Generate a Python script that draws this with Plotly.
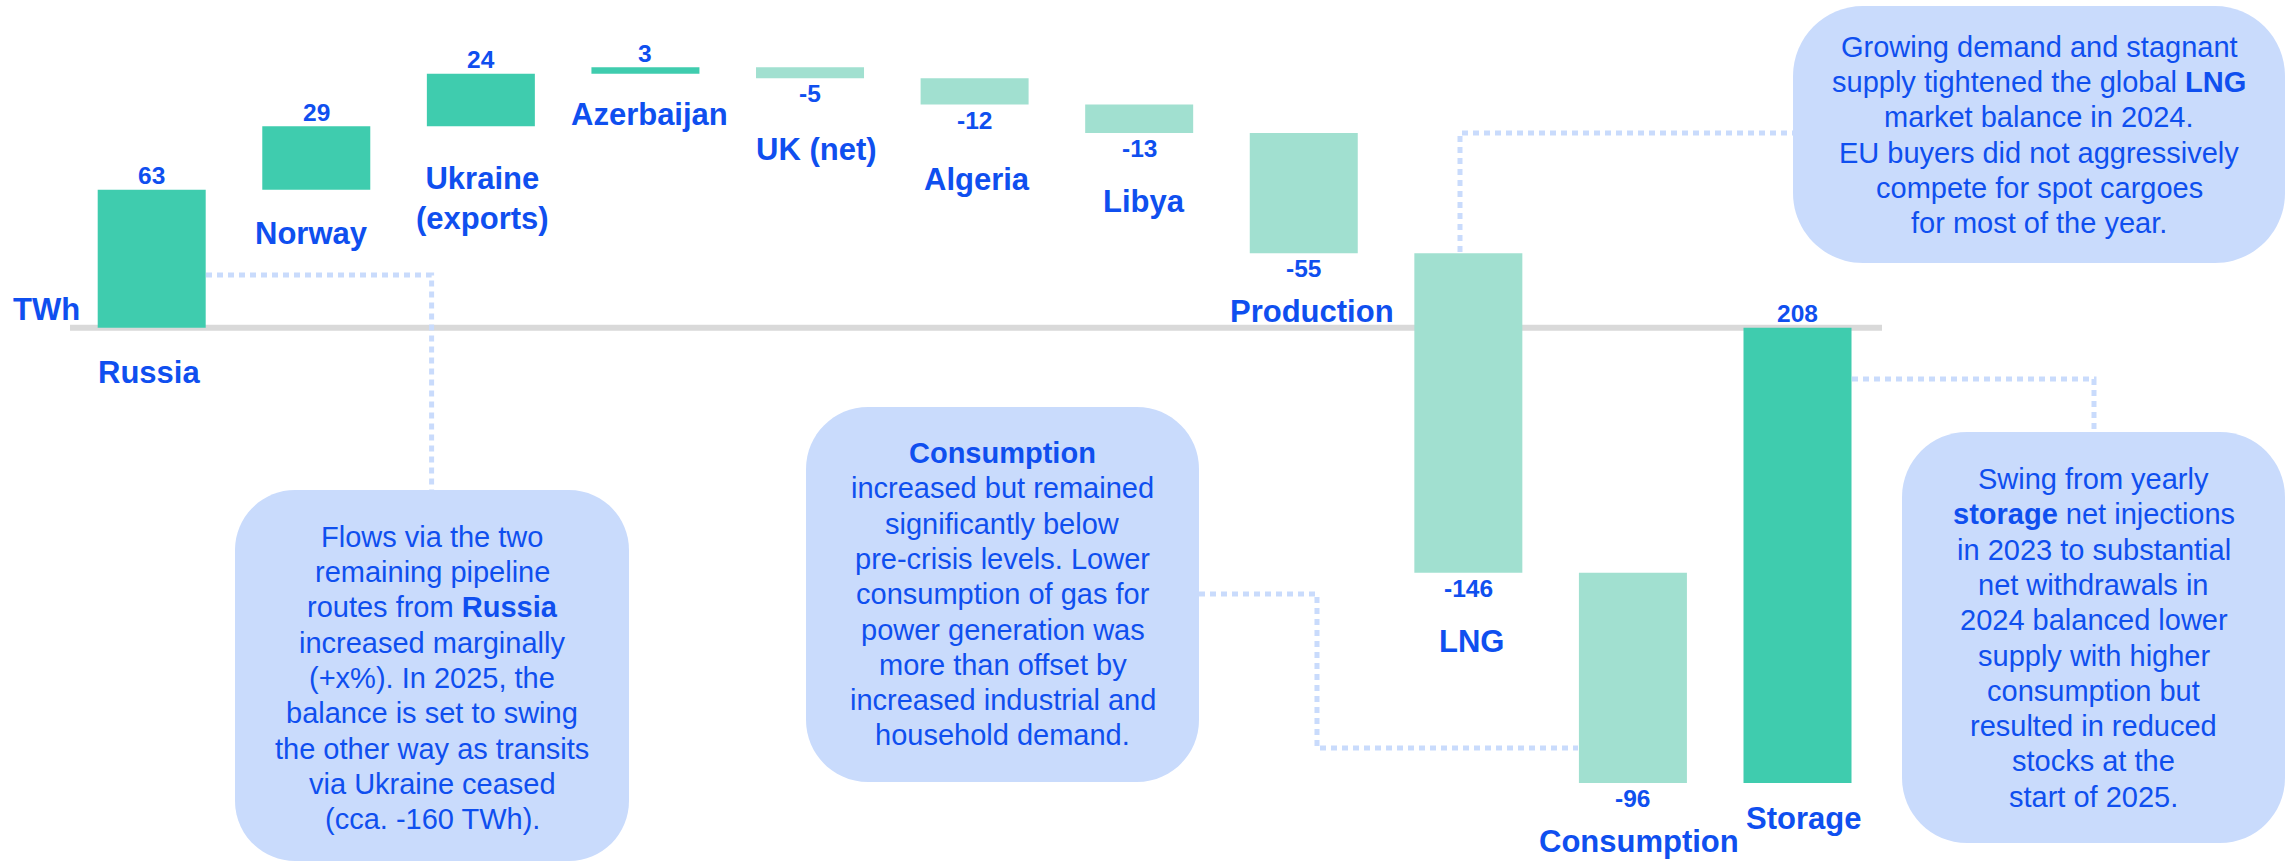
import plotly.graph_objects as go

# ---------------- data ----------------
categories = ["Russia", "Norway", "Ukraine (exports)", "Azerbaijan", "UK (net)",
              "Algeria", "Libya", "Production", "LNG", "Consumption", "Storage"]
values = [63, 29, 24, 3, -5, -12, -13, -55, -146, -96, 208]
category_labels = ["Russia", "Norway", "Ukraine<br>(exports)", "Azerbaijan", "UK (net)",
                   "Algeria", "Libya", "Production", "LNG", "Consumption", "Storage"]
unit_label = "TWh"

note_russia = ["Flows via the two", "remaining pipeline", "routes from <b>Russia</b>",
               "increased marginally", "(+x%). In 2025, the", "balance is set to swing",
               "the other way as transits", "via Ukraine ceased", "(cca. -160 TWh)."]
note_consumption = ["<b>Consumption</b>", "increased but remained", "significantly below",
                    "pre-crisis levels. Lower", "consumption of gas for",
                    "power generation was", "more than offset by",
                    "increased industrial and", "household demand."]
note_lng = ["Growing demand and stagnant", "supply tightened the global <b>LNG</b>",
            "market balance in 2024.", "EU buyers did not aggressively",
            "compete for spot cargoes", "for most of the year."]
note_storage = ["Swing from yearly", "<b>storage</b> net injections", "in 2023 to substantial",
                "net withdrawals in", "2024 balanced lower", "supply with higher",
                "consumption but", "resulted in reduced", "stocks at the", "start of 2025."]

# ---------------- layout constants (pixels) ----------------
W, H = 2287, 862
FIRST_BAR_PX = 151.7
PITCH_PX = 164.58
ZERO_PX = 327.7
PX_PER_TWH = 2.189
BAR_W = 108 / PITCH_PX

DARK = "#3FCCAE"
LIGHT = "#A1E0D0"
BLUE = "#0F4FEF"
BOX = "#C9DBFC"
GREY = "#D9D9D9"
FONT = "Liberation Sans, Arial, sans-serif"

x_range = [-FIRST_BAR_PX / PITCH_PX, (W - FIRST_BAR_PX) / PITCH_PX]
y_range = [(ZERO_PX - H) / PX_PER_TWH, ZERO_PX / PX_PER_TWH]

label_y_px = [372.5, 233, 199, 114.5, 149, 179, 201, 311, 641, 841, 818]
label_dx_px = [-3, -5, 2, 4, 6, 2, 5, 8, 3, 6, 6]


def px(x):
    return x / W


def py(y):
    return 1 - y / H


def rrect(x0, y0, x1, y1, r):
    k = 0.5523 * r
    pts = [("M", [(x0 + r, y0)]), ("L", [(x1 - r, y0)]),
           ("C", [(x1 - r + k, y0), (x1, y0 + r - k), (x1, y0 + r)]),
           ("L", [(x1, y1 - r)]),
           ("C", [(x1, y1 - r + k), (x1 - r + k, y1), (x1 - r, y1)]),
           ("L", [(x0 + r, y1)]),
           ("C", [(x0 + r - k, y1), (x0, y1 - r + k), (x0, y1 - r)]),
           ("L", [(x0, y0 + r)]),
           ("C", [(x0, y0 + r - k), (x0 + r - k, y0), (x0 + r, y0)])]
    s = ""
    for cmd, ps in pts:
        s += cmd + " " + " ".join(f"{px(a):.5f},{py(b):.5f}" for a, b in ps) + " "
    return s + "Z"


def polyline(points):
    return "M " + " L ".join(f"{px(a):.5f},{py(b):.5f}" for a, b in points)


xs = list(range(len(values)))

fig = go.Figure()
fig.add_trace(go.Waterfall(
    x=xs, y=values, measure=["relative"] * len(values), base=0,
    width=[BAR_W] * len(values),
    increasing=dict(marker=dict(color=DARK)),
    decreasing=dict(marker=dict(color=LIGHT)),
    connector=dict(visible=False),
    hovertext=categories, showlegend=False,
))

annotations = []
shapes = []

# baseline
shapes.append(dict(type="line", xref="paper", yref="y", x0=px(70), x1=px(1882), y0=0, y1=0,
                   line=dict(color=GREY, width=6), layer="below"))

# value labels and category labels
cum = 0
for i, v in enumerate(values):
    start, end = cum, cum + v
    cum = end
    annotations.append(dict(
        x=i, y=end, xref="x", yref="y", text=f"<b>{v}</b>", showarrow=False,
        yshift=14 if v > 0 else -15.7, xanchor="center", yanchor="middle",
        font=dict(family=FONT, size=24.5, color=BLUE)))
    annotations.append(dict(
        x=i, y=py(label_y_px[i]), xref="x", yref="paper", text=f"<b>{category_labels[i]}</b>",
        showarrow=False, xshift=label_dx_px[i], xanchor="center", yanchor="middle",
        font=dict(family=FONT, size=31, color=BLUE)))

annotations.append(dict(x=px(46.4), y=py(309), xref="paper", yref="paper",
                        text=f"<b>{unit_label}</b>", showarrow=False,
                        xanchor="center", yanchor="middle",
                        font=dict(family=FONT, size=31, color=BLUE)))

# note boxes
boxes = [
    (235, 490, 629, 861, 60, note_russia, 536.7),
    (806, 407, 1199, 782, 62, note_consumption, 453),
    (1793, 6, 2285, 263, 70, note_lng, 46.7),
    (1902, 432, 2285, 843, 65, note_storage, 479),
]
LINE_GAP = 35.3
for x0, y0, x1, y1, r, lines, first_y in boxes:
    shapes.append(dict(type="path", xref="paper", yref="paper", path=rrect(x0, y0, x1, y1, r),
                       fillcolor=BOX, line=dict(width=0), layer="above"))
    cx = (x0 + x1) / 2
    for j, t in enumerate(lines):
        annotations.append(dict(x=px(cx), y=py(first_y + j * LINE_GAP), xref="paper", yref="paper",
                                text=t, showarrow=False, xanchor="center", yanchor="middle",
                                font=dict(family=FONT, size=29, color=BLUE)))

# dotted connectors
connectors = [
    [(206, 275), (431.6, 275), (431.6, 490)],
    [(1199, 594), (1317, 594), (1317, 748), (1578, 748)],
    [(1460, 252), (1460, 133), (1793, 133)],
    [(1852, 379), (2094, 379), (2094, 432)],
]
for pts in connectors:
    shapes.append(dict(type="path", xref="paper", yref="paper", path=polyline(pts),
                       fillcolor="rgba(0,0,0,0)",
                       line=dict(color=BOX, width=5, dash="6px,5px"), layer="above"))

fig.update_layout(
    width=W, height=H, margin=dict(l=0, r=0, t=0, b=0),
    paper_bgcolor="white", plot_bgcolor="white",
    xaxis=dict(range=x_range, visible=False, fixedrange=True),
    yaxis=dict(range=y_range, visible=False, fixedrange=True),
    annotations=annotations, shapes=shapes, showlegend=False,
    font=dict(family=FONT, color=BLUE),
)

fig.write_html("out.html", config={"displayModeBar": False},
               post_script="document.body.style.margin='0';document.body.style.overflow='hidden';")
